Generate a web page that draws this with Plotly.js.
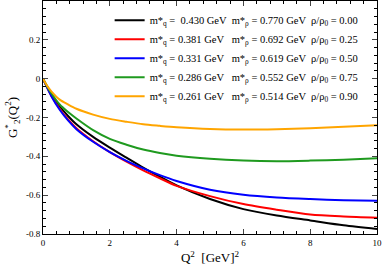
<!DOCTYPE html>
<html>
<head>
<meta charset="utf-8">
<script src="https://cdn.plot.ly/plotly-3.0.1.min.js"></script>
<style>html,body{margin:0;padding:0;background:#fff;}#chart{width:382px;height:266px;}</style>
</head>
<body>
<div id="chart"></div>
<script>
const q2  = [0, 0.125, 0.25, 0.5, 0.75, 1, 1.5, 2, 2.5, 3, 3.5, 4, 5, 6, 7, 8, 9, 10];
const g00 = [0, -0.042, -0.08, -0.142, -0.192, -0.235, -0.30, -0.355, -0.407, -0.458, -0.505, -0.55, -0.62, -0.672, -0.705, -0.73, -0.755, -0.774];
const g25 = [0, -0.046, -0.088, -0.155, -0.21, -0.255, -0.322, -0.378, -0.427, -0.472, -0.513, -0.552, -0.605, -0.646, -0.675, -0.70, -0.71, -0.716];
const g50 = [0, -0.047, -0.09, -0.16, -0.215, -0.26, -0.325, -0.378, -0.423, -0.462, -0.497, -0.527, -0.572, -0.598, -0.612, -0.62, -0.626, -0.629];
const g75 = [0, -0.04, -0.075, -0.133, -0.172, -0.205, -0.265, -0.31, -0.34, -0.365, -0.383, -0.397, -0.413, -0.422, -0.425, -0.422, -0.417, -0.41];
const g90 = [0, -0.037, -0.065, -0.108, -0.133, -0.155, -0.185, -0.207, -0.222, -0.235, -0.243, -0.25, -0.259, -0.262, -0.26, -0.255, -0.248, -0.24];
const labels = [
  "m*<sub>q</sub> =  0.430 GeV  m*<sub>ρ</sub> = 0.770 GeV  ρ/ρ<sub>0</sub> = 0.00",
  "m*<sub>q</sub> = 0.381 GeV   m*<sub>ρ</sub> = 0.692 GeV  ρ/ρ<sub>0</sub> = 0.25",
  "m*<sub>q</sub> = 0.331 GeV   m*<sub>ρ</sub> = 0.619 GeV  ρ/ρ<sub>0</sub> = 0.50",
  "m*<sub>q</sub> = 0.286 GeV   m*<sub>ρ</sub> = 0.552 GeV  ρ/ρ<sub>0</sub> = 0.75",
  "m*<sub>q</sub> = 0.261 GeV   m*<sub>ρ</sub> = 0.514 GeV  ρ/ρ<sub>0</sub> = 0.90"
];
const series = [g00, g25, g50, g75, g90];
const colors = ["#000000", "#ff0000", "#0000ff", "#1f9a1f", "#ffa500"];

const traces = series.map((y, i) => ({
  x: q2, y: y, mode: "lines", name: labels[i],
  line: {color: colors[i], width: 2, shape: "spline", smoothing: 0.8}
}));

const serif = "Liberation Serif";
const layout = {
  width: 382, height: 266,
  margin: {l: 43, r: 5, t: 1, b: 32},
  paper_bgcolor: "#fff", plot_bgcolor: "#fff",
  font: {family: serif, color: "#000", size: 9},
  showlegend: true,
  legend: {x: 0.96, y: 0.98, xanchor: "right", yanchor: "top",
    bgcolor: "rgba(0,0,0,0)", font: {family: serif, size: 10.5, color: "#000"},
    itemwidth: 30, tracegroupgap: 0},
  xaxis: {range: [0, 10], dtick: 2, ticks: "inside", ticklen: 5, tickwidth: 1,
    showline: true, linecolor: "#000", linewidth: 1, mirror: "allticks",
    showgrid: false, zeroline: false, tickfont: {family: serif, size: 9},
    minor: {dtick: 0.4, ticks: "inside", ticklen: 3, tickcolor: "#000", showgrid: false},
    title: {text: "Q<sup>2</sup>  [GeV]<sup>2</sup>", font: {family: serif, size: 13}, standoff: 6}},
  yaxis: {range: [-0.8, 0.4], dtick: 0.2, ticks: "inside", ticklen: 5, tickwidth: 1,
    showline: true, linecolor: "#000", linewidth: 1, mirror: "allticks",
    showgrid: false, zeroline: false, tickfont: {family: serif, size: 9},
    tickvals: [-0.8, -0.6, -0.4, -0.2, 0, 0.2, 0.4],
    ticktext: ["-0.8", "-0.6", "-0.4", "-0.2", "0", "0.2", ""],
    minor: {dtick: 0.04, ticks: "inside", ticklen: 3, tickcolor: "#000", showgrid: false},
    title: {text: "G<sup>*</sup><sub>2</sub>(Q<sup>2</sup>)", font: {family: serif, size: 13}, standoff: 5}}
};
Plotly.newPlot("chart", traces, layout, {displayModeBar: false, staticPlot: true});
</script>
</body>
</html>
